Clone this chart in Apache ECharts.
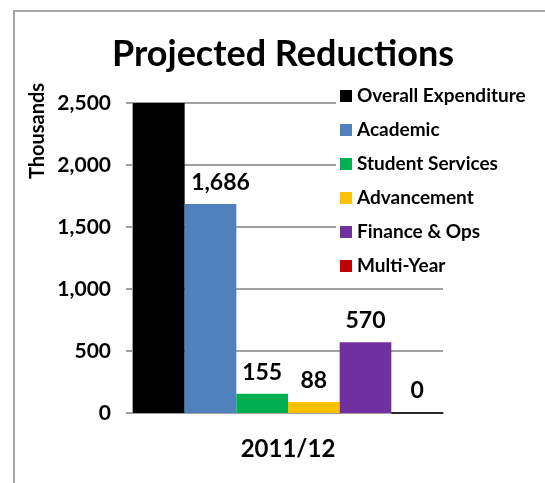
<!DOCTYPE html>
<html>
<head>
<meta charset="utf-8">
<script src="https://cdn.jsdelivr.net/npm/echarts@6/dist/echarts.min.js"></script>
<style>html,body{margin:0;padding:0;background:#fff}#c{width:545px;height:483px}</style>
</head>
<body>
<div id="c"></div>
<script>
var categories = ['2011/12'];
var seriesNames = ['Overall Expenditure', 'Academic', 'Student Services', 'Advancement', 'Finance & Ops', 'Multi-Year'];
var overallExpenditure = [2500];
var academic = [1686];
var studentServices = [155];
var advancement = [88];
var financeOps = [570];
var multiYear = [0];
var yTicks = [0, 500, 1000, 1500, 2000, 2500];

var seriesValues = [overallExpenditure, academic, studentServices, advancement, financeOps, multiYear];
var colors = ['#000000', '#4F81BD', '#00B050', '#FFC000', '#7030A0', '#C00000'];
var FONT = 'Lato';

var chart = echarts.init(document.getElementById('c'), null, {renderer: 'canvas'});
var series = seriesNames.map(function (n, i) {
  var s = {
    name: n,
    type: 'bar',
    data: seriesValues[i],
    barGap: '0%',
    barCategoryGap: '0%',
    itemStyle: {color: colors[i]},
    label: {
      show: i !== 0,
      position: 'top',
      distance: 10,
      offset: i === 1 ? [10, 0] : [0, 0],
      fontFamily: FONT,
      fontWeight: 'bold',
      fontSize: 23,
      color: '#000',
      formatter: function (p) { return p.value.toLocaleString('en-US'); }
    }
  };
  if (i === 5) {
    s.itemStyle = {color: colors[i], borderColor: '#000', borderWidth: 1.5};
  }
  return s;
});

chart.setOption({
  animation: false,
  backgroundColor: '#fff',
  title: {
    text: 'Projected Reductions',
    left: 278, top: 31, textAlign: 'center',
    textStyle: {fontFamily: FONT, fontWeight: 'bold', fontSize: 36, color: '#000'}
  },
  graphic: [
    {type: 'rect', shape: {x: 14, y: 11, width: 700, height: 700}, style: {fill: null, stroke: '#a6a6a6', lineWidth: 2}, silent: true, z: -10},
    {type: 'text', x: 38, y: 131, rotation: Math.PI / 2,
     style: {text: 'Thousands', fontFamily: FONT, fontWeight: 'bold', fontSize: 20, fill: '#000', align: 'center', verticalAlign: 'middle'}}
  ],
  legend: {
    orient: 'vertical',
    left: 336, top: 82,
    backgroundColor: '#fff',
    padding: [4, 4, 4, 4],
    itemWidth: 12, itemHeight: 12,
    itemGap: 14,
    icon: 'rect',
    data: seriesNames.map(function (n, i) { return {name: n, itemStyle: {borderWidth: 0, color: colors[i]}}; }),
    textStyle: {fontFamily: FONT, fontWeight: 'bold', fontSize: 19, color: '#000', lineHeight: 20, padding: [0, 0, 0, 0]}
  },
  grid: {left: 133, right: 102, top: 103, bottom: 70, containLabel: false},
  xAxis: {
    type: 'category',
    data: categories,
    axisLine: {lineStyle: {color: '#a0a0a0', width: 2}},
    axisTick: {show: false},
    axisLabel: {fontFamily: FONT, fontWeight: 'bold', fontSize: 24, color: '#000', margin: 24}
  },
  yAxis: {
    type: 'value',
    min: 0, max: 2500, interval: 500,
    axisLine: {show: true, lineStyle: {color: '#a0a0a0', width: 2}},
    axisTick: {show: true, length: 7, lineStyle: {color: '#a0a0a0', width: 2}},
    splitLine: {lineStyle: {color: '#a0a0a0', width: 2}},
    axisLabel: {fontFamily: FONT, fontWeight: 'bold', fontSize: 21, color: '#000', margin: 22,
      formatter: function (v) { return v.toLocaleString('en-US'); }}
  },
  series: series
});
</script>
</body>
</html>
